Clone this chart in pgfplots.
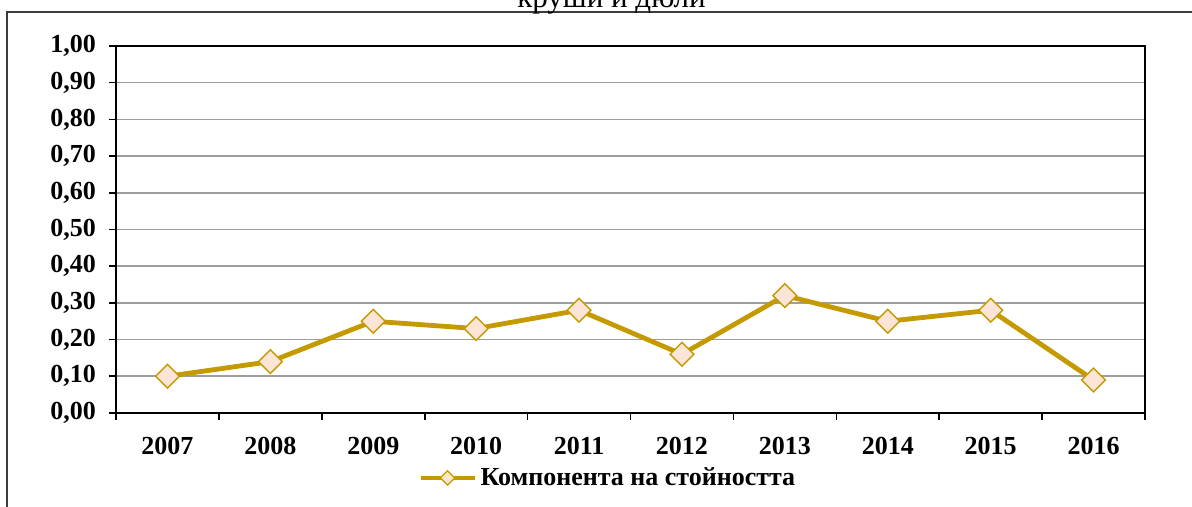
\documentclass[border=0pt]{standalone}
\usepackage{pgfplots}
\pgfplotsset{compat=1.18}
\usepackage{fontspec}
\setmainfont{Liberation Serif}
\definecolor{gold}{RGB}{196,154,0}
\definecolor{mfill}{RGB}{252,228,214}
\definecolor{framec}{RGB}{60,60,60}
\begin{document}
\begin{tikzpicture}
\useasboundingbox (0,0) rectangle (596pt,253.5pt);
\begin{scope}
\clip (0,0) rectangle (596pt,253.5pt);
\draw[line width=1pt, color=framec] (3.5pt,-10pt) -- (3.5pt,247.5pt) -- (620pt,247.5pt);
\node[font=\fontsize{15.5}{18}\selectfont, anchor=base, inner sep=0pt] at (305.75pt,249.6pt) {круши и дюли};
\end{scope}
\begin{axis}[
  at={(58pt,47pt)}, anchor=south west,
  scale only axis, width=514.5pt, height=183.5pt,
  xmin=-0.5, xmax=9.5, ymin=0, ymax=1,
  xtick={-0.5,0.5,...,9.5},
  xticklabels={2007,2008,2009,2010,2011,2012,2013,2014,2015,2016,{}},
  x tick label style={xshift=25.725pt, yshift=-5pt},
  ytick={0,0.1,...,1.01},
  y tick label style={xshift=-3pt, /pgf/number format/fixed, /pgf/number format/fixed zerofill, /pgf/number format/precision=2, /pgf/number format/use comma},
  /pgf/number format/assume math mode=true,
  ticklabel style={font=\fontsize{13}{15}\selectfont\bfseries},
  tick align=outside, tick pos=left,
  major tick length=3.5pt,
  tick style={black, line width=0.8pt},
  ymajorgrids, grid style={color=black!38, line width=0.8pt},
  axis line style={line width=1.2pt},
  legend style={at={(0.479,-0.177)}, anchor=center, draw=none, fill=none,
    font=\fontsize{13}{15}\selectfont\bfseries},
  legend image code/.code={
    \draw[#1, line width=2pt] (0pt,0pt) -- (27pt,0pt);
    \draw[draw=gold, fill=mfill, line width=0.6pt] (13.5pt,3.6pt) -- (17.1pt,0pt) -- (13.5pt,-3.6pt) -- (9.9pt,0pt) -- cycle;
  },
]
\addplot[color=gold, line width=2.4pt, mark=square*, mark size=4.2pt,
  mark options={rotate=45, fill=mfill, draw=gold, line width=0.7pt}]
  coordinates {(0,0.10) (1,0.14) (2,0.25) (3,0.23) (4,0.28) (5,0.16) (6,0.32) (7,0.25) (8,0.28) (9,0.09)};
\addlegendentry{Компонента на стойността}
\end{axis}
\end{tikzpicture}
\end{document}
